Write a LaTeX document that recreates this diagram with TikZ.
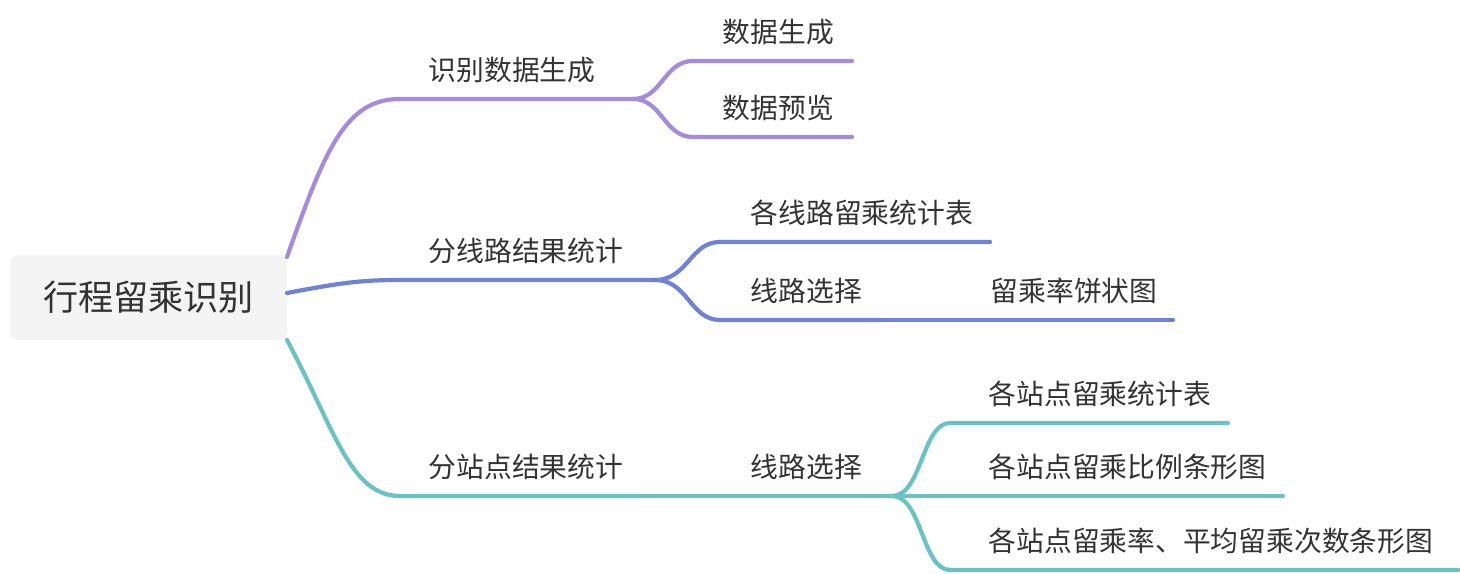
\documentclass[tikz,border=0pt]{standalone}
\usepackage{fontspec}
\newfontfamily\cjk{Noto Sans CJK SC}
\usetikzlibrary{positioning}
\definecolor{lilac}{HTML}{A58BDB}
\definecolor{cornflower}{HTML}{6F82D6}
\definecolor{seateal}{HTML}{6BC2C2}
\definecolor{rootgray}{HTML}{F4F4F4}
\definecolor{ink}{HTML}{333333}
\tikzset{
  rootbox/.style={rectangle, fill=rootgray, rounded corners=0.08cm,
                  minimum width=2.77cm, minimum height=0.85cm,
                  text=ink, font=\cjk\fontsize{10pt}{12pt}\selectfont},
  leaf/.style={inner sep=0pt, anchor=west, text=ink,
               font=\cjk\fontsize{7.9pt}{9pt}\selectfont},
  branch/.style={line width=1.2pt, line cap=round},
}

\begin{document}
\begin{tikzpicture}[x=0.01cm, y=-0.01cm]
  \useasboundingbox (0,0) rectangle (1460,574);

  %% Root
  \node[rootbox] (root) at (148.5,297.5) {行程留乘识别};

  %% Line points
  \coordinate (r1) at (287,257);
  \coordinate (r2) at (287,293);
  \coordinate (r3) at (287,340);
  \coordinate (sb) at (400,99);
  \coordinate (sbfork) at (633,99);
  \coordinate (gen) at (693,61);
  \coordinate (genend) at (852,61);
  \coordinate (pre) at (693,137);
  \coordinate (preend) at (852,137);
  \coordinate (xl) at (400,280);
  \coordinate (xlfork) at (655,280);
  \coordinate (xltab) at (720,242);
  \coordinate (xltabend) at (990,242);
  \coordinate (xlsel) at (720,320);
  \coordinate (xlselend) at (880,320);
  \coordinate (pieend) at (1173,320);
  \coordinate (zd) at (400,496);
  \coordinate (zdsel) at (640,496);
  \coordinate (zdfork) at (892,496);
  \coordinate (zdtab) at (950,423);
  \coordinate (zdtabend) at (1228,423);
  \coordinate (zdbarend) at (1283,496);
  \coordinate (zdrate) at (950,570);
  \coordinate (zdrateend) at (1458,570);

  %% Labels
  \node[leaf] (sbtext) at (428,70) {识别数据生成};
  \node[leaf] (gentext) at (722,32) {数据生成};
  \node[leaf] (pretext) at (722,108) {数据预览};
  \node[leaf] (xltext) at (428,251) {分线路结果统计};
  \node[leaf] (xltabtext) at (750,213) {各线路留乘统计表};
  \node[leaf] (xlseltext) at (750,291) {线路选择};
  \node[leaf] (pietext) at (990,291) {留乘率饼状图};
  \node[leaf] (zdtext) at (428,467) {分站点结果统计};
  \node[leaf] (zdseltext) at (750,467) {线路选择};
  \node[leaf] (zdtabtext) at (988,394) {各站点留乘统计表};
  \node[leaf] (zdbartext) at (988,467) {各站点留乘比例条形图};
  \node[leaf] (zdratetext) at (988,541) {各站点留乘率、平均留乘次数条形图};

  %% Branch 1
  \draw[branch, lilac] (r1) .. controls (325,150) and (345,99) .. (sb) -- (sbfork);
  \draw[branch, lilac] (sbfork) .. controls (662,99) and (664,61) .. (gen) -- (genend);
  \draw[branch, lilac] (sbfork) .. controls (662,99) and (664,137) .. (pre) -- (preend);

  %% Branch 2
  \draw[branch, cornflower] (r2) .. controls (340,283) and (360,280) .. (xl) -- (xlfork);
  \draw[branch, cornflower] (xlfork) .. controls (688,280) and (690,242) .. (xltab) -- (xltabend);
  \draw[branch, cornflower] (xlfork) .. controls (688,280) and (690,320) .. (xlsel) -- (xlselend);
  \draw[branch, cornflower] (xlselend) -- (pieend);

  %% Branch 3
  \draw[branch, seateal] (r3) .. controls (335,430) and (350,496) .. (zd) -- (zdsel);
  \draw[branch, seateal] (zdsel) -- (zdfork);
  \draw[branch, seateal] (zdfork) .. controls (922,496) and (922,423) .. (zdtab) -- (zdtabend);
  \draw[branch, seateal] (zdfork) -- (zdbarend);
  \draw[branch, seateal] (zdfork) .. controls (922,496) and (922,570) .. (zdrate) -- (zdrateend);

\end{tikzpicture}
\end{document}
